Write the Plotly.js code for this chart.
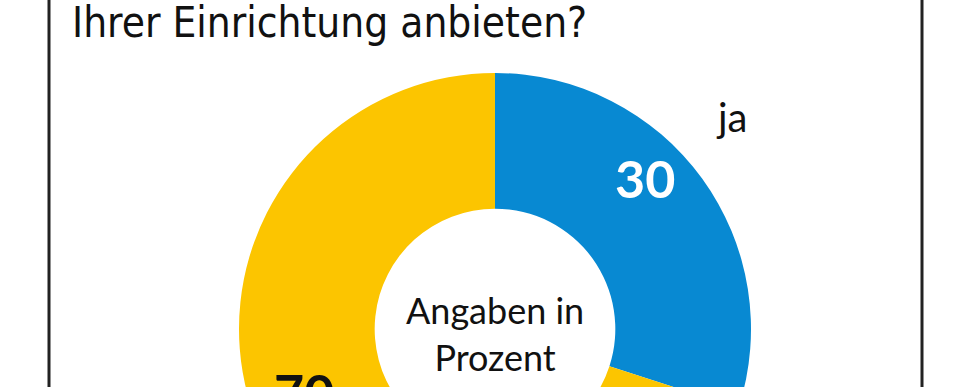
<!DOCTYPE html>
<html>
<head>
<meta charset="utf-8">
<script src="https://cdn.plot.ly/plotly-3.0.1.min.js"></script>
<style>
html,body{margin:0;padding:0;background:#fff;overflow:hidden;}
#chart{width:970px;height:700px;}
</style>
</head>
<body>
<div id="chart"></div>
<script>
// Data
const categories = ["ja", "nein"];
const values = [30, 70];
const sliceColors = ["#0889D2", "#FCC500"];
const titleText = "Ihrer Einrichtung anbieten?";
const centerText = "Angaben in<br>Prozent";

const W = 970, H = 700;
const px = x => x / W;
const py = y => 1 - y / H;

// Pie geometry (pixels)
const cx = 495, cy = 329, r = 256;

const trace = {
  type: "pie",
  labels: categories,
  values: values,
  marker: {colors: sliceColors, line: {width: 0}},
  hole: 0.47,
  sort: false,
  direction: "clockwise",
  rotation: 0,
  textinfo: "none",
  hoverinfo: "none",
  showlegend: false,
  domain: {x: [px(cx - r), px(cx + r)], y: [py(cy + r), py(cy - r)]}
};

const layout = {
  width: W, height: H,
  margin: {l: 0, r: 0, t: 0, b: 0},
  paper_bgcolor: "#fff",
  showlegend: false,
  title: {
    text: titleText,
    font: {family: "DejaVu Sans Condensed", size: 42, color: "#111"},
    x: px(72), xanchor: "left", xref: "paper",
    y: py(8), yanchor: "top", yref: "container",
    pad: {t: 0, b: 0, l: 0, r: 0}
  },
  shapes: [
    {type: "line", xref: "paper", yref: "paper", x0: px(49), x1: px(49), y0: 0, y1: 1, line: {color: "#222", width: 3}},
    {type: "line", xref: "paper", yref: "paper", x0: px(922), x1: px(922), y0: 0, y1: 1, line: {color: "#222", width: 3}}
  ],
  annotations: [
    {text: centerText, x: px(cx), y: py(333), xref: "paper", yref: "paper", xanchor: "center", yanchor: "middle",
     showarrow: false, align: "center", font: {family: "Lato", size: 36, color: "#111"}},
    {text: String(values[0]), x: px(645), y: py(178), xref: "paper", yref: "paper", xanchor: "center", yanchor: "middle",
     showarrow: false, font: {family: "Lato", size: 52, color: "#fff", weight: "bold"}},
    {text: categories[0], x: px(731), y: py(117), xref: "paper", yref: "paper", xanchor: "center", yanchor: "middle",
     showarrow: false, font: {family: "Lato", size: 40, color: "#111"}},
    {text: String(values[1]), x: px(304), y: py(392), xref: "paper", yref: "paper", xanchor: "center", yanchor: "middle",
     showarrow: false, font: {family: "Lato", size: 52, color: "#111", weight: "bold"}}
  ]
};

Plotly.newPlot("chart", [trace], layout, {displayModeBar: false, staticPlot: true});
</script>
</body>
</html>
